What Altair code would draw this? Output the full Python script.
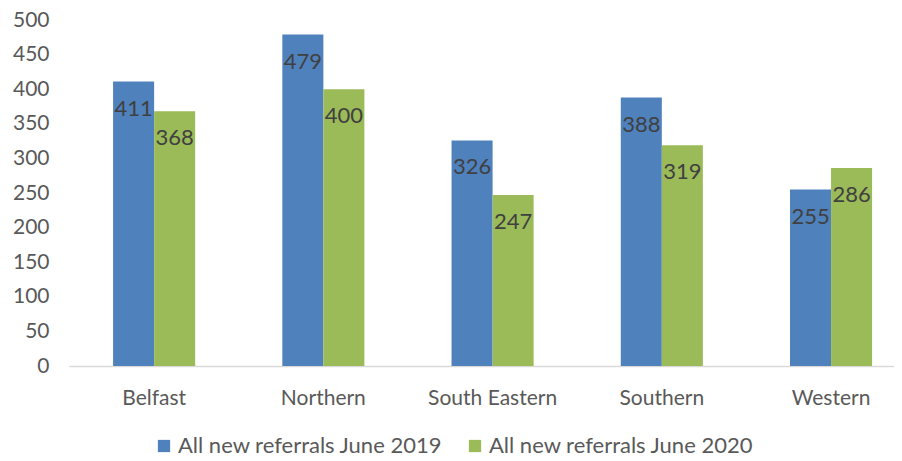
import altair as alt
import pandas as pd

regions = ["Belfast", "Northern", "South Eastern", "Southern", "Western"]
series = ["All new referrals June 2019", "All new referrals June 2020"]
values_2019 = [411, 479, 326, 388, 255]
values_2020 = [368, 400, 247, 319, 286]
colors = ["#4F81BD", "#9BBB59"]

rows = []
for r, a, b in zip(regions, values_2019, values_2020):
    rows.append({"region": r, "series": series[0], "value": a})
    rows.append({"region": r, "series": series[1], "value": b})
df = pd.DataFrame(rows)

FONT = "Lato"

x = alt.X("region:N", sort=regions, title=None,
          scale=alt.Scale(paddingInner=0.515, paddingOuter=0.195, align=0.668),
          axis=alt.Axis(labelAngle=0, labelFontSize=21, labelColor="#595959",
                        labelFont=FONT, ticks=False, domainColor="#D9D9D9",
                        domainWidth=1.5, labelPadding=21))
y = alt.Y("value:Q", title=None,
          scale=alt.Scale(domain=[0, 500], nice=False),
          axis=alt.Axis(values=list(range(0, 501, 50)), labelFontSize=21,
                        labelColor="#595959", labelFont=FONT, ticks=False,
                        domain=False, grid=False, labelPadding=20))
xo = alt.XOffset("series:N", sort=series)

base = alt.Chart(df)
bars = base.mark_bar().encode(
    x=x, y=y, xOffset=xo,
    color=alt.Color("series:N", sort=series, title=None,
                    scale=alt.Scale(domain=series, range=colors),
                    legend=alt.Legend(orient="none", direction="horizontal",
                                      legendX=84, legendY=415,
                                      symbolType="square", symbolSize=150,
                                      labelFontSize=22, labelColor="#595959",
                                      labelFont=FONT, columnPadding=21,
                                      labelOffset=3,
                                      symbolStrokeWidth=0,
                                      labelLimit=400)),
)
labels = base.mark_text(baseline="middle", dy=27, fontSize=22, font=FONT,
                        color="#404040").encode(
    x=x, y=y, xOffset=xo, text=alt.Text("value:Q"))

chart = (bars + labels).properties(
    width=825, height=346,
    autosize=alt.AutoSizeParams(type="none"),
    padding={"left": 61, "top": 12, "right": 0, "bottom": 92},
).configure_view(stroke=None)

chart.save("out.html", embed_options={"renderer": "svg", "actions": False})
